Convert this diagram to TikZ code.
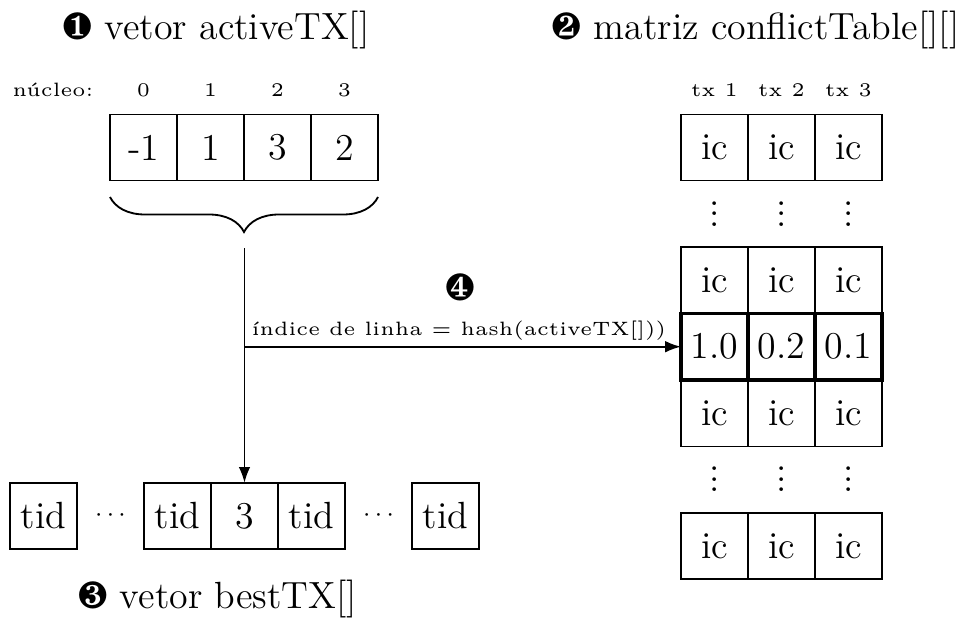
\documentclass[tikz,border=0pt]{standalone}
\usepackage{pifont}
\usepackage{graphicx}
\usetikzlibrary{decorations.pathreplacing,arrows.meta}

% small captions: the 5pt design of Latin Modern, enlarged
\newcommand{\smalllbl}[1]{\scalebox{1.47}{\fontsize{5}{6}\selectfont #1}}
% three stacked dots, boxed tightly (no top kern)
\newcommand{\colgap}{\vbox{\baselineskip4pt\lineskiplimit0pt\hbox{.}\hbox{.}\hbox{.}}}

\begin{document}
\begin{tikzpicture}[x=0.38pt,y=-0.38pt,
  every node/.style={inner sep=0pt, outer sep=0pt},
  cellbox/.style={draw, line width=0.6pt, minimum width=25.46pt, minimum height=25.23pt, font=\Large},
  hotcell/.style={cellbox, line width=1.4pt},
  dotsnode/.style={font=\Large},
  heading/.style={font=\Large, anchor=base},
  lbl/.style={anchor=base},
  link/.style={line width=0.7pt},
  arrowlink/.style={link, -{Latex[length=6pt,width=4.4pt]}}
]
\useasboundingbox (0,0) rectangle (972,621);

% 1: activeTX vector
\node[heading] (t1) at (216,40) {\ding{182} vetor activeTX[]};
\node[lbl] (nucleo) at (53,97) {\smalllbl{núcleo:}};
\foreach \v [count=\i from 0] in {-1,1,3,2} {
  \node[lbl] (n\i) at ({143.5+67*\i},97) {\smalllbl{\i}};
  \node[cellbox] (a\i) at ({143.5+67*\i},147.5) {\v};
}
\coordinate (brR) at (378,197);
\coordinate (brL) at (110,197);
\draw[link, decorate, decoration={brace, amplitude=13.3pt}] (brR) -- (brL);

% 2: conflictTable matrix
\node[heading] (t2) at (755.5,40) {\ding{183} matriz conflictTable[][]};
\foreach \j in {1,2,3} {
  \node[lbl] (tx\j) at ({714.5+67*(\j-1)},97) {\smalllbl{tx \j}};
  \foreach \r in {0,2,4,6}
    \node[cellbox] (m\r\j) at ({714.5+67*(\j-1)},{147.5+66.4*\r}) {ic};
  \foreach \r in {1,5}
    \node[dotsnode] (d\r\j) at ({714.5+67*(\j-1)},{147.5+66.4*\r}) {\colgap};
}
\foreach \v [count=\j] in {1.0,0.2,0.1}
  \node[hotcell] (m3\j) at ({714.5+67*(\j-1)},{147.5+66.4*3}) {\v};

% 3: bestTX vector
\node[cellbox] (b0) at (43.5,516) {tid};
\node (b1) at (110.5,516) {$\cdots$};
\node[cellbox] (b2) at (177.5,516) {tid};
\node[cellbox] (b3) at (244.5,516) {3};
\node[cellbox] (b4) at (311.5,516) {tid};
\node (b5) at (378.5,516) {$\cdots$};
\node[cellbox] (b6) at (445.5,516) {tid};
\node[heading] (t3) at (217.5,608) {\ding{184} vetor bestTX[]};

% 4: hash lookup
\coordinate (stem) at (244.5,248);
\coordinate (fork) at (stem |- m31.west);
\draw[arrowlink] (stem) -- (b3.north);
\draw[arrowlink] (fork) -- (m31.west);
\node[font=\Large] (step4) at (460,287) {\ding{185}};
\node[lbl] (hashlbl) at (459,335) {\smalllbl{índice de linha $=$ hash(activeTX[]))}};
\end{tikzpicture}
\end{document}
